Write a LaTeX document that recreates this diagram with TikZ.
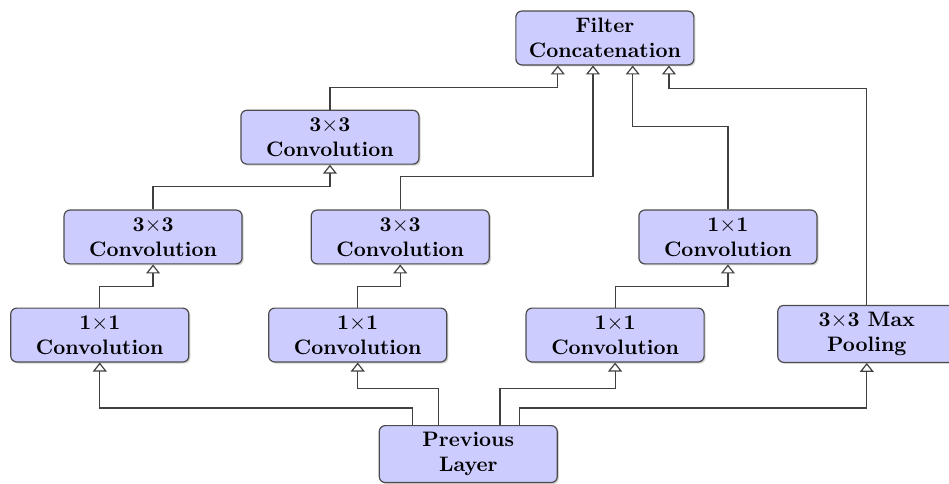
\documentclass[tikz,border=0pt]{standalone}
\usetikzlibrary{arrows.meta,shadows}
\begin{document}
\begin{tikzpicture}[
    layer/.style={draw=black!70,fill=blue!20,rounded corners=3pt,line width=.6pt,
      minimum width=3.14cm,minimum height=.95cm,align=center,
      font=\fontsize{10.5}{12.6}\selectfont\bfseries,
      drop shadow={shadow xshift=.8pt,shadow yshift=-.8pt,opacity=.35}},
    conn/.style={draw=black!75,line width=.6pt,-{Triangle[open,width=7pt,length=4.5pt]}}]
  \useasboundingbox (0,0) rectangle (16.74,-8.537);
  % boxes
  \node[layer] (concat) at (10.67,-0.67) {Filter\\Concatenation};
  \node[layer] (conv3b) at (5.82,-2.42) {3$\times$3\\Convolution};
  \node[layer] (conv3a) at (2.70,-4.18) {3$\times$3\\Convolution};
  \node[layer] (conv3c) at (7.06,-4.18) {3$\times$3\\Convolution};
  \node[layer] (conv1d) at (12.84,-4.18) {1$\times$1\\Convolution};
  \node[layer] (conv1a) at (1.76,-5.91) {1$\times$1\\Convolution};
  \node[layer] (conv1b) at (6.31,-5.91) {1$\times$1\\Convolution};
  \node[layer] (conv1c) at (10.85,-5.91) {1$\times$1\\Convolution};
  \node[layer] (pool) at (15.29,-5.89) {3$\times$3 Max\\Pooling};
  \node[layer] (prev) at (8.26,-8.01) {Previous\\Layer};
  % from the previous layer
  \draw[conn] ([xshift=-.99cm]prev.north) -- ++(0,.3) -| (conv1a.south);
  \draw[conn] ([xshift=-.53cm]prev.north) -- ++(0,.65) -| (conv1b.south);
  \draw[conn] ([xshift=.56cm]prev.north) -- ++(0,.65) -| (conv1c.south);
  \draw[conn] ([xshift=.9cm]prev.north) -- ++(0,.3) -| (pool.south);
  % inner branches
  \draw[conn] (conv1a.north) -- ++(0,.37) -| (conv3a.south);
  \draw[conn] (conv1b.north) -- ++(0,.37) -| (conv3c.south);
  \draw[conn] (conv1c.north) -- ++(0,.37) -| (conv1d.south);
  \draw[conn] (conv3a.north) -- ++(0,.41) -| (conv3b.south);
  % into the concatenation
  \draw[conn] (conv3b.north) -- ++(0,.39) -| ([xshift=-.83cm]concat.south);
  \draw[conn] (conv3c.north) -- ++(0,.58) -| ([xshift=-.21cm]concat.south);
  \draw[conn] (conv1d.north) -- ++(0,1.46) -| ([xshift=.49cm]concat.south);
  \draw[conn] (pool.north) -- ++(0,3.81) -| ([xshift=1.13cm]concat.south);
\end{tikzpicture}
\end{document}
